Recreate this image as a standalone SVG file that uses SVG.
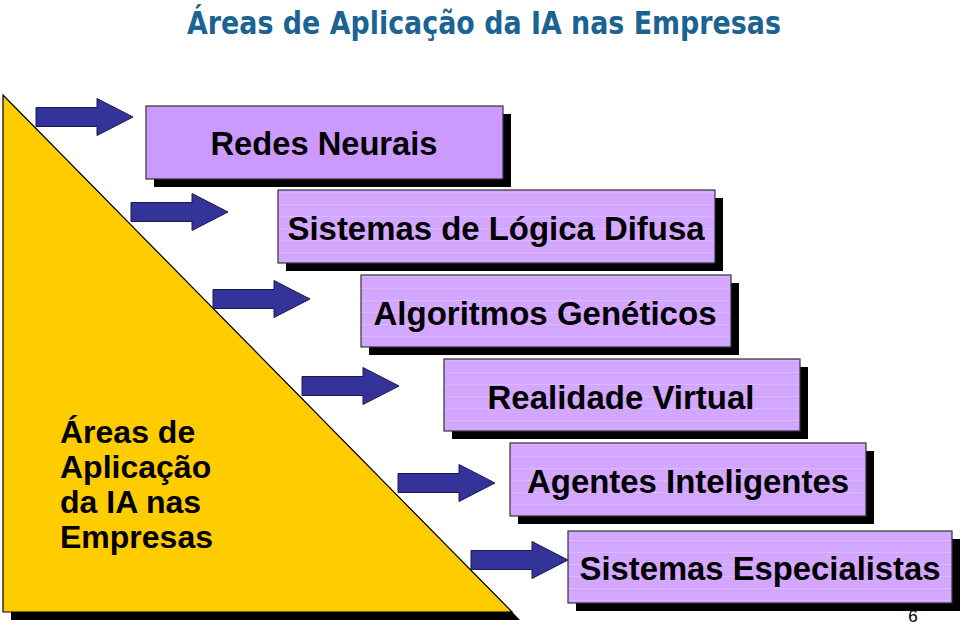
<svg xmlns="http://www.w3.org/2000/svg" width="960" height="626" viewBox="0 0 960 626">
<defs>
<style>
.title{font-family:"DejaVu Sans","Liberation Sans",sans-serif;font-weight:bold;font-size:32px;fill:#1A6393}
.lbl{font-family:"Liberation Sans",Arial,sans-serif;font-weight:bold;font-size:33px;fill:#000}
.box{stroke:#333;stroke-width:1.2}
.shadow{fill:#000}
.arrow{fill:#333399;stroke:#1a1a4d;stroke-width:1}
.side{font-family:"Liberation Sans",Arial,sans-serif;font-weight:bold;font-size:32px;fill:#000}
.pg{font-family:"Liberation Sans",Arial,sans-serif;font-size:17px;fill:#000}
</style>
<pattern id="stripes" width="10" height="12" patternUnits="userSpaceOnUse">
<rect width="10" height="12" fill="#D3A6FF"/>
<line x1="0" y1="0.5" x2="10" y2="0.5" stroke="#DCB8FF" stroke-width="1"/>
</pattern>
<path id="arr" d="M0,-9.5 H61 V-18.5 L97,0 L61,18.5 V9.5 H0 Z"/>
</defs>
<rect width="960" height="626" fill="#fff"/>
<text class="title" x="484" y="34" text-anchor="middle" textLength="594" lengthAdjust="spacingAndGlyphs">Áreas de Aplicação da IA nas Empresas</text>

<g id="triangle">
<polygon class="shadow" points="11,103 11,620 520,620"/>
<polygon points="3,95 3,612 512,612" fill="#FFCC00" stroke="#000" stroke-width="1.2"/>
<text class="side" x="60" y="443">Áreas de</text>
<text class="side" x="60" y="478">Aplicação</text>
<text class="side" x="60" y="513">da IA nas</text>
<text class="side" x="60" y="548">Empresas</text>
</g>

<g id="connectors">
<use href="#arr" class="arrow" x="36" y="117"/>
<use href="#arr" class="arrow" x="131" y="212"/>
<use href="#arr" class="arrow" x="213" y="299"/>
<use href="#arr" class="arrow" x="302" y="386"/>
<use href="#arr" class="arrow" x="398" y="483"/>
<use href="#arr" class="arrow" x="471" y="560"/>
</g>

<g id="redes-neurais">
<rect class="shadow" x="154" y="114" width="357" height="73"/>
<rect class="box" x="146" y="106" width="357" height="73" fill="#CC99FF"/>
<text class="lbl" x="324" y="155" text-anchor="middle" textLength="227" lengthAdjust="spacingAndGlyphs">Redes Neurais</text>
</g>

<g id="logica-difusa">
<rect class="shadow" x="286" y="198" width="437" height="73"/>
<rect class="box" x="278" y="190" width="437" height="73" fill="url(#stripes)"/>
<text class="lbl" x="496" y="240" text-anchor="middle" textLength="417" lengthAdjust="spacingAndGlyphs">Sistemas de Lógica Difusa</text>
</g>

<g id="algoritmos-geneticos">
<rect class="shadow" x="369" y="283" width="370" height="72"/>
<rect class="box" x="361" y="275" width="370" height="72" fill="url(#stripes)"/>
<text class="lbl" x="545" y="325" text-anchor="middle" textLength="343" lengthAdjust="spacingAndGlyphs">Algoritmos Genéticos</text>
</g>

<g id="realidade-virtual">
<rect class="shadow" x="452" y="367" width="356" height="72"/>
<rect class="box" x="444" y="359" width="356" height="72" fill="url(#stripes)"/>
<text class="lbl" x="621" y="409" text-anchor="middle" textLength="267" lengthAdjust="spacingAndGlyphs">Realidade Virtual</text>
</g>

<g id="agentes-inteligentes">
<rect class="shadow" x="518" y="451" width="356" height="73"/>
<rect class="box" x="510" y="443" width="356" height="73" fill="url(#stripes)"/>
<text class="lbl" x="688" y="493" text-anchor="middle" textLength="322" lengthAdjust="spacingAndGlyphs">Agentes Inteligentes</text>
</g>

<g id="sistemas-especialistas">
<rect class="shadow" x="576" y="539" width="384" height="72"/>
<rect class="box" x="568" y="531" width="384" height="72" fill="url(#stripes)"/>
<text class="lbl" x="760" y="580" text-anchor="middle" textLength="361" lengthAdjust="spacingAndGlyphs">Sistemas Especialistas</text>
</g>

<text class="pg" x="913" y="622" text-anchor="middle">6</text>
</svg>
